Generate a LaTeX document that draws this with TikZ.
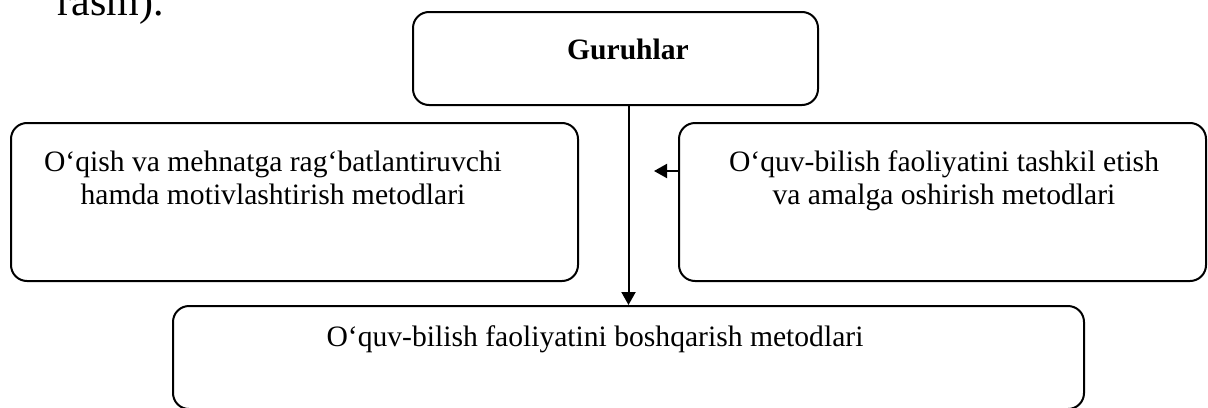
\documentclass[tikz,border=0pt]{standalone}
\usepackage{fontspec}
\setmainfont{Liberation Serif}
\usetikzlibrary{arrows.meta,positioning}

\tikzset{
  blok/.style={draw, line width=1pt, rounded corners=8pt, inner sep=0pt},
  matn/.style={font=\fontsize{14.8}{16.5}\selectfont, align=center, inner sep=0pt},
  strelka/.style={line width=1pt, -{Triangle[length=6.5pt,width=7pt]}}
}

\begin{document}
\begin{tikzpicture}[x=0.5pt, y=-0.5pt]
  \clip (0,0) rectangle (1208,407);
  % qolgan matn
  \node[anchor=base west, inner sep=0pt, font=\fontsize{21}{24}\selectfont] (rasm) at (57,15) {rasm).};
  % bloklar
  \node[blok, minimum width=202.5pt, minimum height=46.5pt] (grp) at (615.5,58.5) {};
  \node[blok, minimum width=283.5pt, minimum height=79pt] (mot) at (294.5,202) {};
  \node[blok, minimum width=263.5pt, minimum height=79pt] (org) at (942.5,202) {};
  \node[blok, minimum width=455.5pt, minimum height=51.5pt] (bosh) at (628.5,357.5) {};
  % yozuvlar
  \node[matn, anchor=base] (grpmatn) at (628,59) {\textbf{Guruhlar}};
  \node[matn, anchor=base] (motmatn) at (273,204)
    {O‘qish va mehnatga rag‘batlantiruvchi\\hamda motivlashtirish metodlari};
  \node[matn, anchor=base] (orgmatn) at (944,204)
    {O‘quv-bilish faoliyatini tashkil etish\\va amalga oshirish metodlari};
  \node[matn, anchor=base] (boshmatn) at (595,346)
    {O‘quv-bilish faoliyatini boshqarish metodlari};
  % strelkalar
  \coordinate (uch) at (654,171);
  \draw[strelka] (grp.south -| bosh.north) -- (bosh.north);
  \draw[strelka] (org.west |- uch) -- (uch);
\end{tikzpicture}
\end{document}
